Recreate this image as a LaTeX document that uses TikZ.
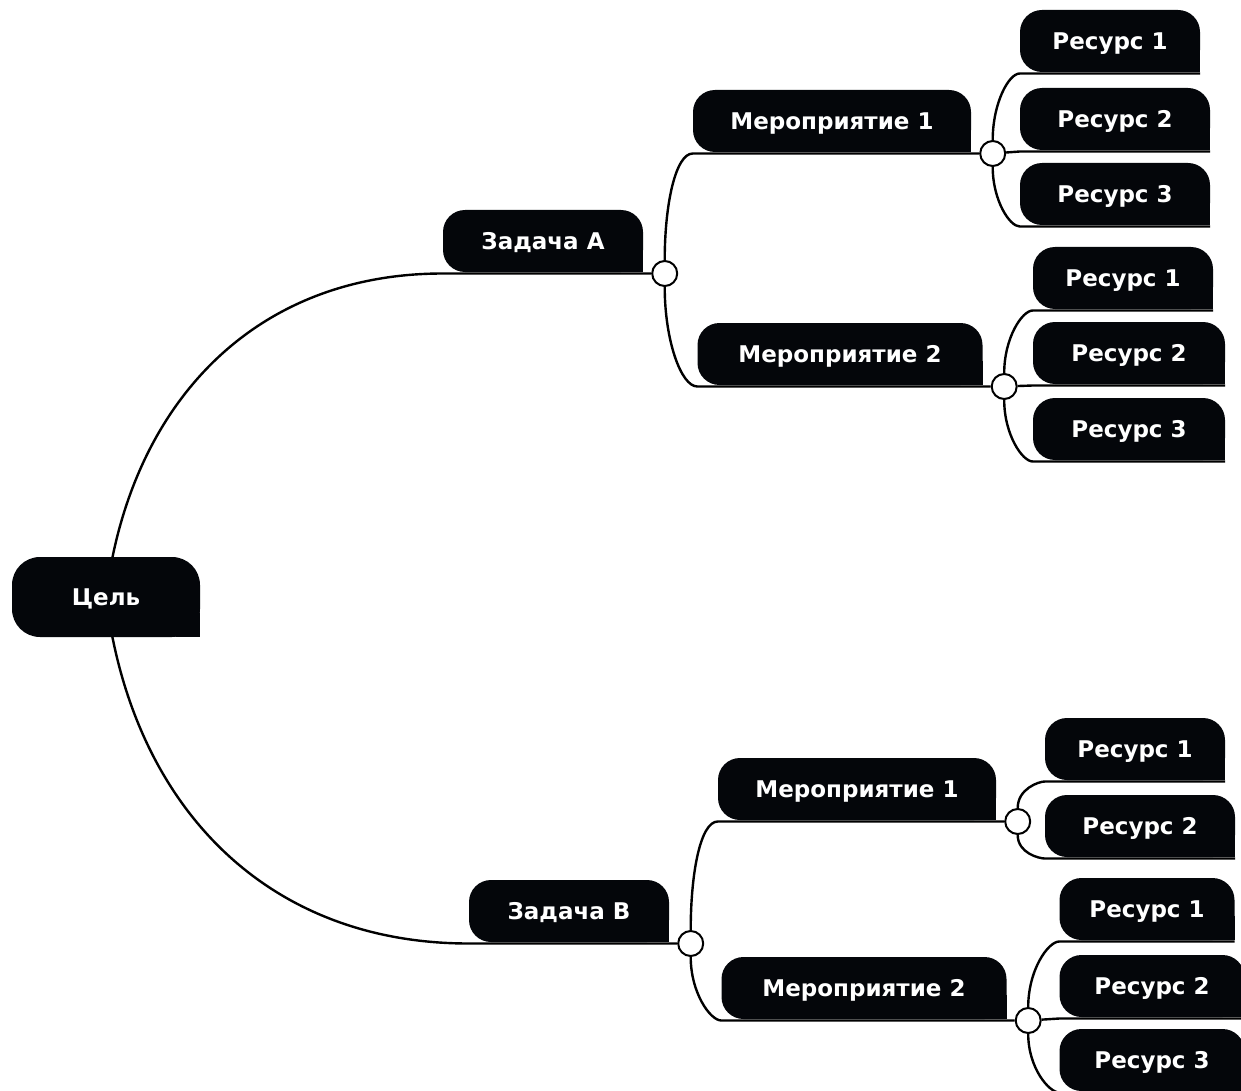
\documentclass[tikz,border=0pt]{standalone}
\usepackage{fontspec}
\setmainfont{DejaVu Sans}
\usepackage{tikz}
\usetikzlibrary{positioning,backgrounds}

\definecolor{boxfill}{RGB}{4,6,10}

\begin{document}
\begin{tikzpicture}[x=1pt,y=-1pt,
font=\fontsize{23}{26}\selectfont\bfseries]
\tikzstyle{topic}=[rectangle, rounded corners=22pt, fill=boxfill,
draw=none, text=white, text depth=0pt, outer ysep=1.5pt,
minimum height=62pt, inner sep=0pt]
\tikzstyle{goalbox}=[topic, rounded corners=28pt, minimum width=188pt,
minimum height=80pt]
\tikzstyle{taskbox}=[topic, minimum width=200pt]
\tikzstyle{actbox}=[topic, minimum width=278pt]
\tikzstyle{resbox}=[topic, minimum width=185pt]
\tikzstyle{hub}=[circle, draw=black, fill=white, line width=2pt,
minimum size=25pt, inner sep=0pt]
\tikzstyle{branch}=[draw=black, line width=2.4pt]
\tikzstyle{elbow}=[out looseness=1.3, in looseness=0.4]

\useasboundingbox (0,0) rectangle (1241,1091);

% goal and tasks
\node[goalbox] (goal) at (106,597) {Цель};
\node[taskbox] (zA) at (543,241) {Задача A};
\node[taskbox] (zB) at (569,911) {Задача B};
\node[hub, right=8pt of zA.south east] (cA) {};
\node[hub, right=8pt of zB.south east] (cB) {};

% measures
\node[actbox] (mA1) at (832,121) {Мероприятие 1};
\node[actbox, minimum width=285pt] (mA2) at (840,354) {Мероприятие 2};
\node[actbox] (mB1) at (857,789) {Мероприятие 1};
\node[actbox, minimum width=285pt] (mB2) at (864,988) {Мероприятие 2};
\node[hub, right=8pt of mA1.south east] (cA1) {};
\node[hub, right=8pt of mA2.south east] (cA2) {};
\node[hub, right=8pt of mB1.south east] (cB1) {};
\node[hub, right=8pt of mB2.south east] (cB2) {};

% resources
\node[resbox, minimum width=180pt] (rA11) at (1110,41) {Ресурс 1};
\node[resbox, minimum width=190pt] (rA12) at (1115,119) {Ресурс 2};
\node[resbox, minimum width=190pt] (rA13) at (1115,194) {Ресурс 3};
\node[resbox, minimum width=180pt] (rA21) at (1123,278) {Ресурс 1};
\node[resbox, minimum width=192pt] (rA22) at (1129,353) {Ресурс 2};
\node[resbox, minimum width=192pt] (rA23) at (1129,429) {Ресурс 3};
\node[resbox, minimum width=180pt] (rB11) at (1135,749) {Ресурс 1};
\node[resbox, minimum width=190pt] (rB12) at (1140,826) {Ресурс 2};
\node[resbox, minimum width=175pt] (rB21) at (1147,909) {Ресурс 1};
\node[resbox] (rB22) at (1152,986) {Ресурс 2};
\node[resbox] (rB23) at (1152,1060) {Ресурс 3};

% square lower right corner of every box
\foreach \n in {goal,zA,zB,mA1,mA2,mB1,mB2,rA11,rA12,rA13,rA21,rA22,rA23,
rB11,rB12,rB21,rB22,rB23}
  \fill[boxfill] ([yshift=1.5pt]\n.south east) rectangle +(-24,-24);

% connectors
\begin{scope}[on background layer]
\draw[branch] (goal.center) to[out=83,in=180,looseness=1.05] (zA.south west) -- (cA);
\draw[branch] (goal.center) to[out=-83,in=180,looseness=1.05] (zB.south west) -- (cB);

\draw[branch] (cA) to[out=90,in=180,elbow] (mA1.south west) -- (cA1);
\draw[branch] (cA) to[out=-90,in=180,elbow] (mA2.south west) -- (cA2);
\draw[branch] (cB) to[out=90,in=180,elbow] (mB1.south west) -- (cB1);
\draw[branch] (cB) to[out=-90,in=180,elbow] (mB2.south west) -- (cB2);

\draw[branch] (cA1) to[out=90,in=180,elbow] (rA11.south west) -- (rA11.south east);
\draw[branch] (cA1) -- (rA12.south west) -- (rA12.south east);
\draw[branch] (cA1) to[out=-90,in=180,elbow] (rA13.south west) -- (rA13.south east);
\draw[branch] (cA2) to[out=90,in=180,elbow] (rA21.south west) -- (rA21.south east);
\draw[branch] (cA2) -- (rA22.south west) -- (rA22.south east);
\draw[branch] (cA2) to[out=-90,in=180,elbow] (rA23.south west) -- (rA23.south east);
\draw[branch] (cB1) to[out=90,in=180,elbow] (rB11.south west) -- (rB11.south east);
\draw[branch] (cB1) to[out=-90,in=180,elbow] (rB12.south west) -- (rB12.south east);
\draw[branch] (cB2) to[out=90,in=180,elbow] (rB21.south west) -- (rB21.south east);
\draw[branch] (cB2) -- (rB22.south west) -- (rB22.south east);
\draw[branch] (cB2) to[out=-90,in=180,elbow] (rB23.south west) -- (rB23.south east);
\end{scope}

\end{tikzpicture}
\end{document}
